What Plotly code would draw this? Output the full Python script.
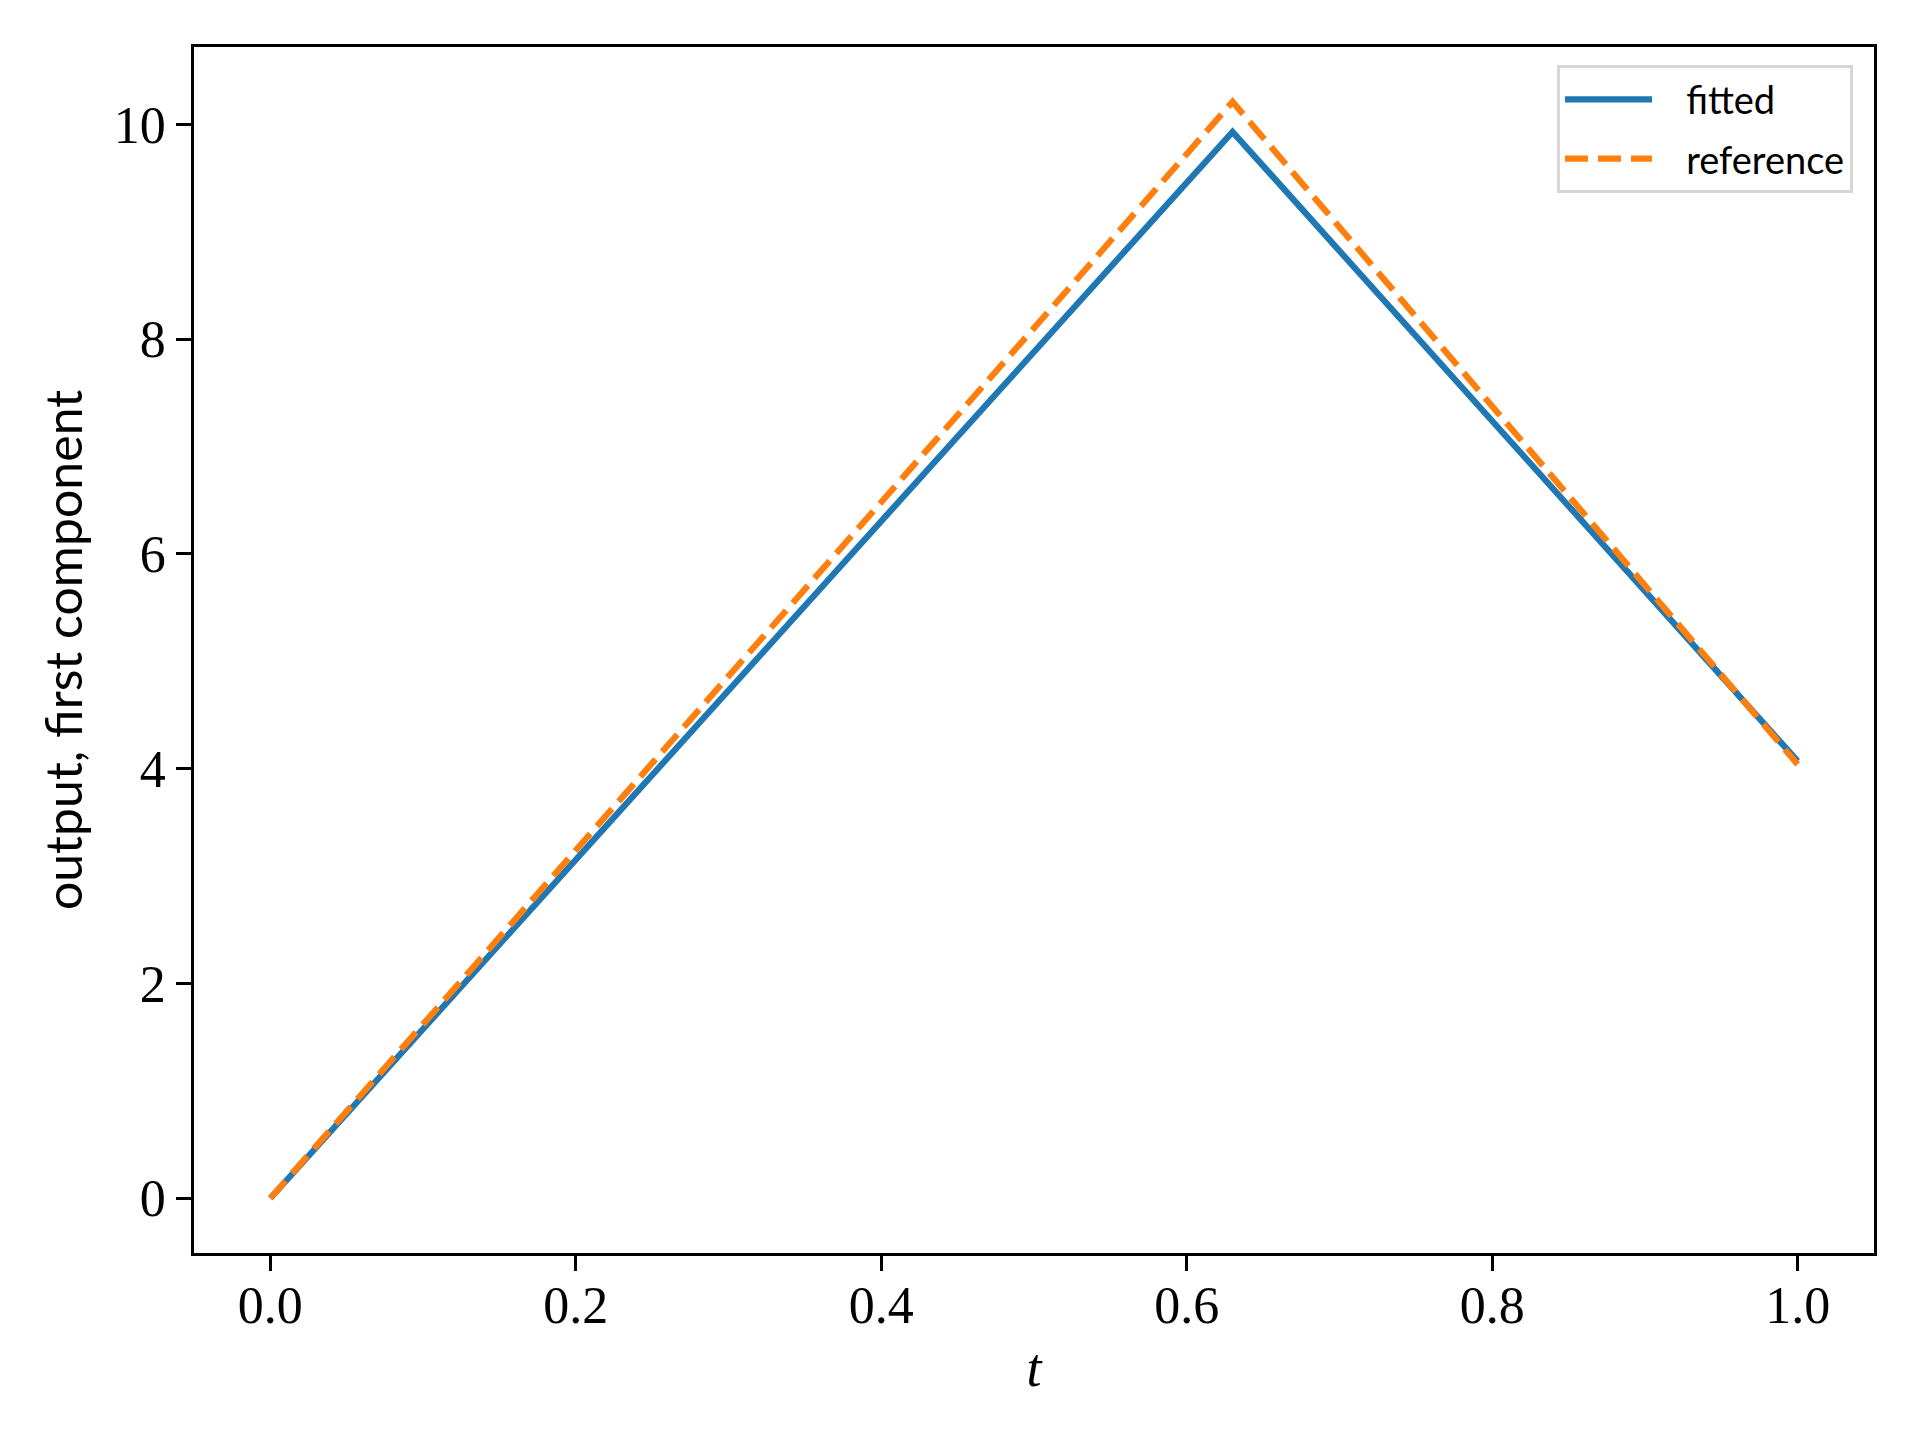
import plotly.graph_objects as go

# values
t = [0.0, 0.63, 1.0]
fitted = [0.0, 9.93, 4.07]
reference = [0.0, 10.21, 4.04]

x_ticks = [0.0, 0.2, 0.4, 0.6, 0.8, 1.0]
y_ticks = [0, 2, 4, 6, 8, 10]

serif = "Liberation Serif"
sans = "Lato"
pad = "\u00a0" * 3  # gap between legend line and its text

fig = go.Figure()
fig.add_trace(go.Scatter(x=t, y=fitted, mode="lines", name=pad + "fitted",
                         legendgroup="a",
                         line=dict(color="#1f77b4", width=6.25)))
fig.add_trace(go.Scatter(x=t, y=reference, mode="lines", name=pad + "reference",
                         legendgroup="b",
                         line=dict(color="#ff7f0e", width=6.25, dash="23px,10px")))

axis_common = dict(showline=True, linecolor="black", linewidth=3.3, mirror=True,
                   ticks="outside", ticklen=14.6, tickwidth=3.3, tickcolor="black",
                   showgrid=False, zeroline=False,
                   tickfont=dict(family=serif, size=52, color="black"))

fig.update_xaxes(range=[-0.05, 1.05], tickvals=x_ticks, tickformat=".1f",
                 ticklabelstandoff=-10,
                 title=dict(text="<i>t</i>", font=dict(family=serif, size=54, color="black"),
                            standoff=16),
                 **axis_common)
fig.update_yaxes(range=[-0.51, 10.72], tickvals=y_ticks,
                 title=dict(text="output, first component",
                            font=dict(family=sans, size=50, color="black"), standoff=16),
                 **axis_common)

fig.update_layout(
    width=1920, height=1440,
    margin=dict(l=186, r=54, t=39, b=195),
    plot_bgcolor="white", paper_bgcolor="white",
    legend=dict(x=0.9875, y=0.985, xanchor="right", yanchor="top",
                bgcolor="white", bordercolor="#d6d6d6", borderwidth=3,
                font=dict(family=sans, size=38, color="black"),
                itemwidth=87, tracegroupgap=7),
)

fig.write_html("out.html")
